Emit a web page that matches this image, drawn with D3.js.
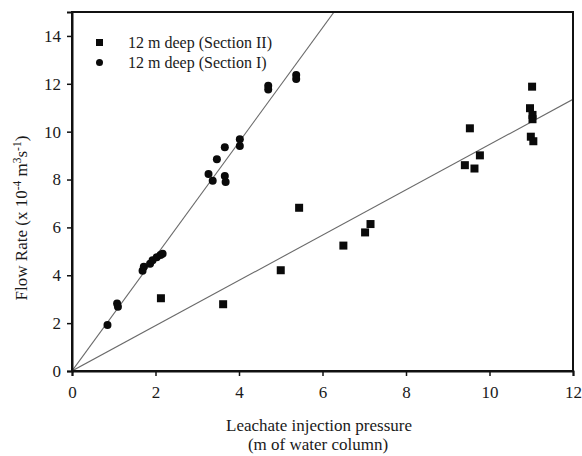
<!DOCTYPE html>
<html>
<head>
<meta charset="utf-8">
<script src="https://cdn.jsdelivr.net/npm/d3@7"></script>
<style>
  body { margin: 0; background: #fff; }
  text { font-family: "Liberation Serif", "Times New Roman", serif; fill: #1a1a1a; }
</style>
</head>
<body>
<div id="wrapper"></div>
<script>
// Section II (squares): [pressure, flow]
const sectionTwo = [
  [2.13, 3.04], [3.62, 2.79], [5.0, 4.21], [5.44, 6.82], [6.5, 5.24],
  [7.02, 5.79], [7.15, 6.14], [9.41, 8.6], [9.53, 10.14], [9.64, 8.46],
  [9.77, 9.01], [10.97, 10.98], [11.02, 11.88], [11.03, 10.7], [11.03, 10.52],
  [10.99, 9.79], [11.05, 9.6]
]
// Section I (circles)
const sectionOne = [
  [0.85, 1.92], [1.08, 2.82], [1.1, 2.68], [1.69, 4.19], [1.72, 4.36],
  [1.87, 4.48], [1.93, 4.63], [2.03, 4.75], [2.12, 4.85], [2.17, 4.9],
  [3.27, 8.23], [3.37, 7.95], [3.47, 8.85], [3.66, 9.35], [3.66, 8.15],
  [3.68, 7.9], [4.02, 9.68], [4.02, 9.4], [4.7, 11.92], [4.7, 11.76],
  [5.37, 12.37], [5.37, 12.2]
]
// fitted lines through origin: slope
const slopeOne = 2.39
const slopeTwo = 0.946

const xTicks = [0, 2, 4, 6, 8, 10, 12]
const yTicks = [0, 2, 4, 6, 8, 10, 12, 14]
const legendLabels = ["12 m deep (Section II)", "12 m deep (Section I)"]

const dimensions = {
  width: 582,
  height: 456,
  margin: { top: 12, right: 9, bottom: 85, left: 72 }
}
dimensions.boundedWidth = dimensions.width - dimensions.margin.left - dimensions.margin.right
dimensions.boundedHeight = dimensions.height - dimensions.margin.top - dimensions.margin.bottom

const wrapper = d3.select("#wrapper")
  .append("svg")
  .attr("width", dimensions.width)
  .attr("height", dimensions.height)

const bounds = wrapper.append("g")
  .attr("transform", `translate(${dimensions.margin.left},${dimensions.margin.top})`)

const xScale = d3.scaleLinear()
  .domain([0, 12])
  .range([0, dimensions.boundedWidth])
const yScale = d3.scaleLinear()
  .domain([0, 15])
  .range([dimensions.boundedHeight, 0])

// fit lines, clipped to plot area
bounds.append("clipPath").attr("id", "clip")
  .append("rect")
  .attr("width", dimensions.boundedWidth)
  .attr("height", dimensions.boundedHeight)

const lineGen = d3.line().x(d => xScale(d[0])).y(d => yScale(d[1]))
const fits = [slopeOne, slopeTwo]
bounds.append("g").attr("clip-path", "url(#clip)")
  .selectAll("path")
  .data(fits)
  .join("path")
  .attr("d", s => lineGen([[0, 0], [12, 12 * s]]))
  .attr("fill", "none")
  .attr("stroke", "#6a6a6a")
  .attr("stroke-width", 1.1)

// frame
bounds.append("rect")
  .attr("width", dimensions.boundedWidth)
  .attr("height", dimensions.boundedHeight)
  .attr("fill", "none")
  .attr("stroke", "#111")
  .attr("stroke-width", 2)

const xAxis = bounds.append("g")
  .attr("transform", `translate(0,${dimensions.boundedHeight})`)
  .call(d3.axisBottom(xScale).tickValues(xTicks).tickSize(5).tickPadding(10))
const yAxis = bounds.append("g")
  .call(d3.axisLeft(yScale).tickValues(yTicks).tickSize(5).tickPadding(6))

;[xAxis, yAxis].forEach(ax => {
  ax.select(".domain").attr("stroke", "#111").attr("stroke-width", 2)
  ax.selectAll(".tick line").attr("stroke", "#111").attr("stroke-width", 1.5)
  ax.selectAll(".tick text")
    .attr("fill", "#1a1a1a")
    .style("font-family", '"Liberation Serif", "Times New Roman", serif')
    .style("font-size", "17px")
})

// points
const sq = 8
bounds.selectAll("rect.sec2")
  .data(sectionTwo)
  .join("rect")
  .attr("class", "sec2")
  .attr("x", d => xScale(d[0]) - sq / 2)
  .attr("y", d => yScale(d[1]) - sq / 2)
  .attr("width", sq)
  .attr("height", sq)
  .attr("fill", "#0a0a0a")

bounds.selectAll("circle.sec1")
  .data(sectionOne)
  .join("circle")
  .attr("class", "sec1")
  .attr("cx", d => xScale(d[0]))
  .attr("cy", d => yScale(d[1]))
  .attr("r", 4)
  .attr("fill", "#0a0a0a")

// legend
const legend = wrapper.append("g")
legend.append("rect")
  .attr("x", 96).attr("y", 39).attr("width", 7).attr("height", 7)
  .attr("fill", "#0a0a0a")
legend.append("circle")
  .attr("cx", 99.5).attr("cy", 62.5).attr("r", 3.5)
  .attr("fill", "#0a0a0a")
legend.selectAll("text")
  .data(legendLabels)
  .join("text")
  .attr("x", 128)
  .attr("y", (d, i) => 48 + i * 20)
  .style("font-size", "16px")
  .text(d => d)

// axis titles
const xTitle = wrapper.append("text")
  .attr("text-anchor", "middle")
  .style("font-size", "17px")
xTitle.append("tspan").attr("x", 319).attr("y", 431).text("Leachate injection pressure")
xTitle.append("tspan").attr("x", 318).attr("y", 450).text("(m of water column)")

const yTitle = wrapper.append("text")
  .attr("text-anchor", "middle")
  .attr("transform", "translate(27,218) rotate(-90)")
  .style("font-size", "17px")
yTitle.append("tspan").text("Flow Rate (x 10")
yTitle.append("tspan").attr("baseline-shift", "super").style("font-size", "11.5px").text("-4")
yTitle.append("tspan").text(" m")
yTitle.append("tspan").attr("baseline-shift", "super").style("font-size", "11.5px").text("3")
yTitle.append("tspan").text("s")
yTitle.append("tspan").attr("baseline-shift", "super").style("font-size", "11.5px").text("-1")
yTitle.append("tspan").text(")")
</script>
</body>
</html>
